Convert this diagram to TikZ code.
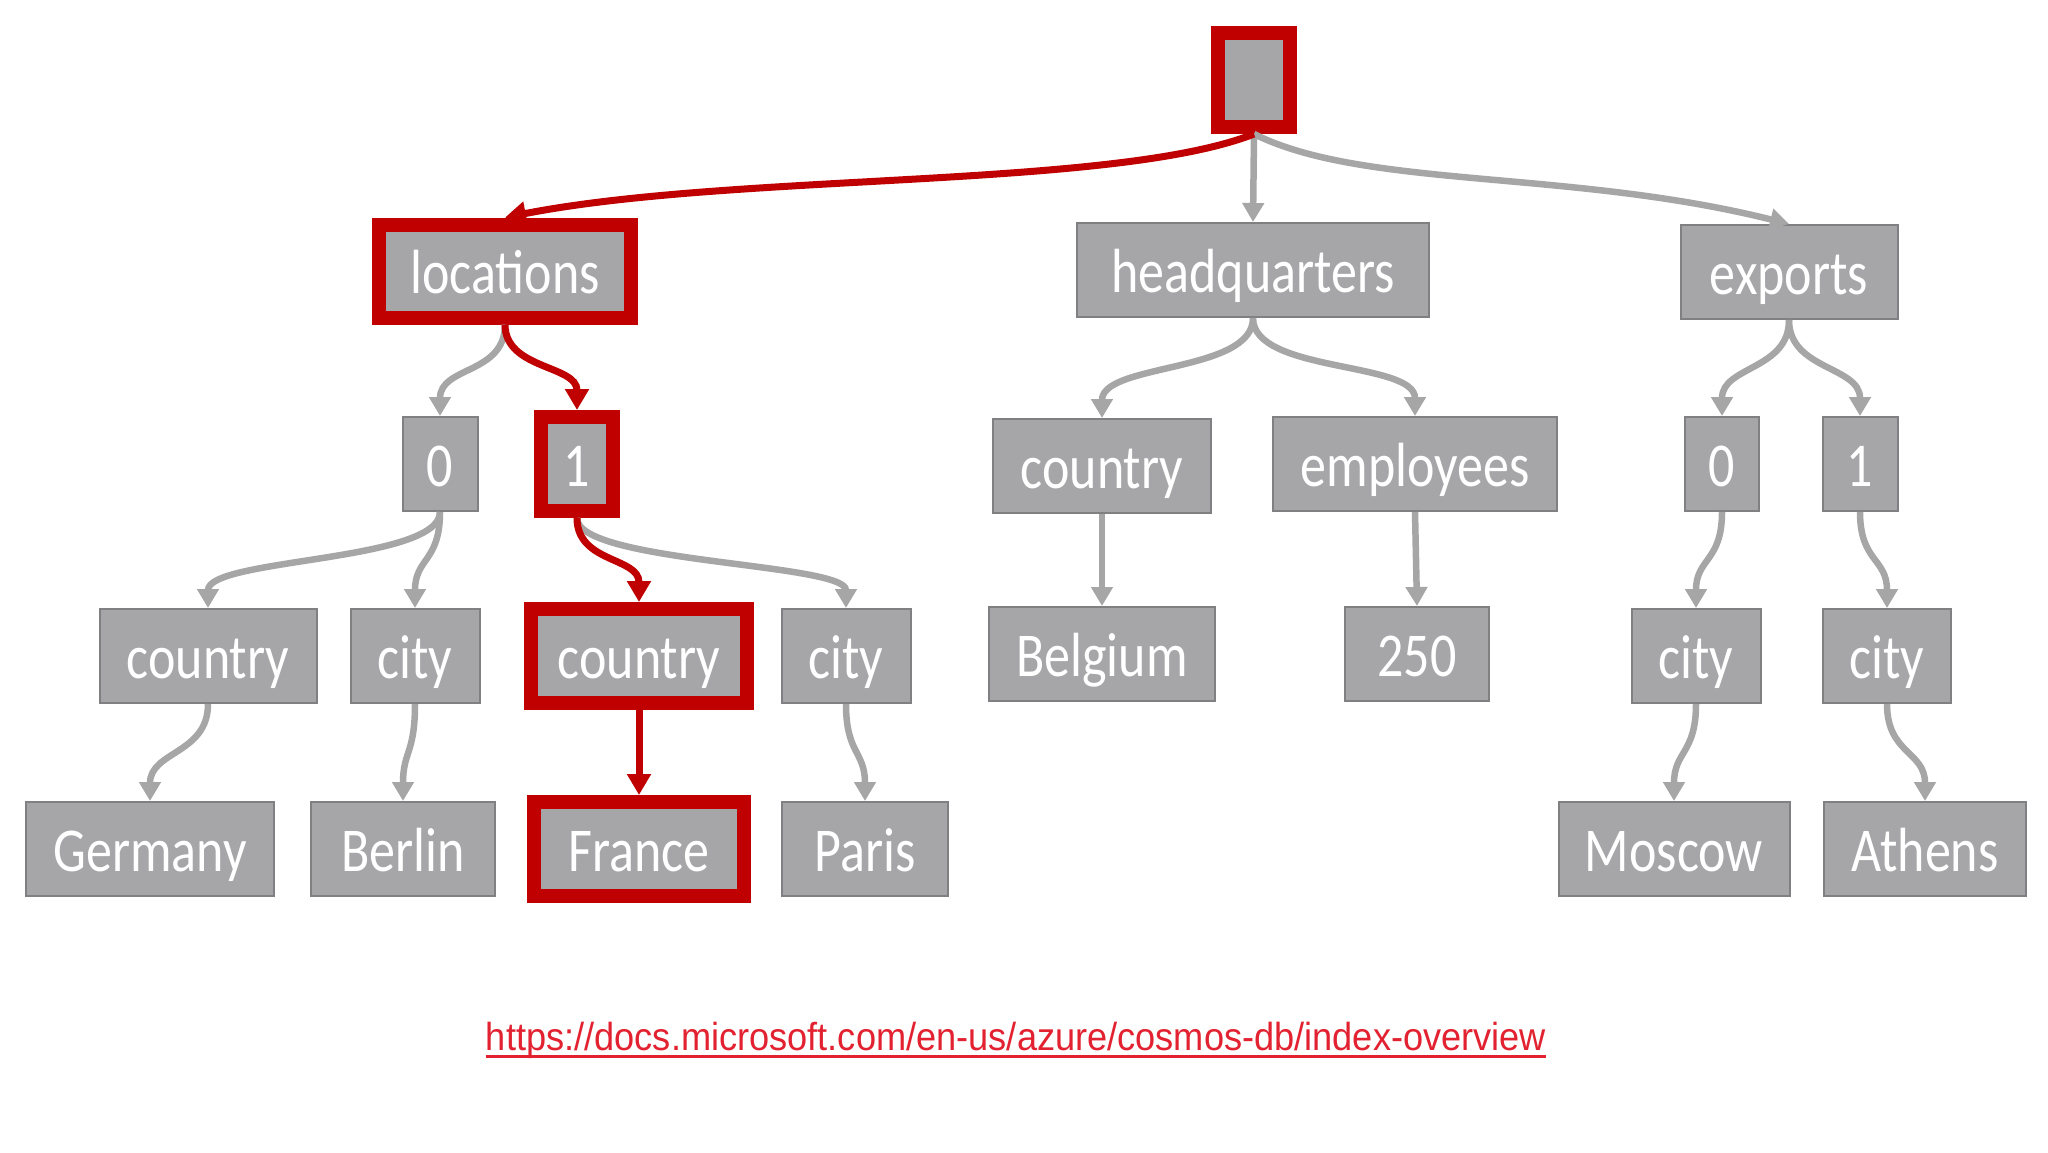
\documentclass[tikz,border=0pt]{standalone}
\usepackage{fontspec}
\setmainfont{Carlito}
\newfontfamily\urlfont{Liberation Sans}
\usetikzlibrary{arrows.meta}
\definecolor{boxfill}{RGB}{166,166,168}
\definecolor{boxline}{RGB}{128,128,130}
\definecolor{hired}{RGB}{192,0,0}
\definecolor{arrowgray}{RGB}{166,166,166}
\definecolor{urlred}{RGB}{226,34,48}
\newcommand{\tallt}[1]{\scalebox{1}[1.2]{#1}}
\tikzset{
  box/.style={draw=boxline, line width=2pt, fill=boxfill, text=white, inner sep=0pt,
    minimum height=94pt, text height=52pt, text depth=8pt, font=\fontsize{52}{60}\selectfont},
  hbox/.style={box, draw=hired, line width=14pt},
  conn/.style={draw=arrowgray, line width=6.5pt, -{Triangle[width=21pt,length=19pt]}},
  hconn/.style={draw=hired, line width=7pt, -{Triangle[width=23pt,length=21pt]}}
}
\begin{document}
\begin{tikzpicture}[x=1pt,y=-1pt]
\fill[white] (0,0) rectangle (2048,1152);
\useasboundingbox (0,0) rectangle (2048,1152);
% level 0
\node[hbox, minimum width=72pt] (root) at (1254,80) {};
% level 1
\node[hbox, minimum width=252pt, minimum height=93pt] (loc) at (505,271) {\tallt{locations}};
\node[box, minimum width=352pt] (hq) at (1253,270) {\tallt{headquarters}};
\node[box, minimum width=217pt] (exp) at (1789,272) {\tallt{exports}};
% level 2
\node[box, minimum width=75pt] (l0) at (440,464) {\tallt{0}};
\node[hbox, minimum width=72pt] (l1) at (577,464) {\tallt{1}};
\node[box, minimum width=218pt] (hqc) at (1102,466) {\tallt{country}};
\node[box, minimum width=284pt] (emp) at (1415,464) {\tallt{employees}};
\node[box, minimum width=74pt] (e0) at (1722,464) {\tallt{0}};
\node[box, minimum width=75pt] (e1) at (1860,464) {\tallt{1}};
% level 3
\node[box, minimum width=217pt] (c0) at (208,656) {\tallt{country}};
\node[box, minimum width=129pt] (ci0) at (415,656) {\tallt{city}};
\node[hbox, minimum width=216pt] (c1) at (639,656) {\tallt{country}};
\node[box, minimum width=129pt] (ci1) at (846,656) {\tallt{city}};
\node[box, minimum width=226pt] (bel) at (1102,654) {\tallt{Belgium}};
\node[box, minimum width=144pt] (n250) at (1417,654) {\tallt{250}};
\node[box, minimum width=129pt] (ec0) at (1696,656) {\tallt{city}};
\node[box, minimum width=128pt] (ec1) at (1887,656) {\tallt{city}};
% level 4
\node[box, minimum width=248pt] (ger) at (150,849) {\tallt{Germany}};
\node[box, minimum width=184pt] (ber) at (403,849) {\tallt{Berlin}};
\node[hbox, minimum width=210pt] (fra) at (639,849) {\tallt{France}};
\node[box, minimum width=166pt] (par) at (865,849) {\tallt{Paris}};
\node[box, minimum width=231pt] (mos) at (1674,849) {\tallt{Moscow}};
\node[box, minimum width=202pt] (ath) at (1925,849) {\tallt{Athens}};
% connectors
\draw[conn] (root.south) -- (hq.north);
\draw[conn] (root.south) .. controls +(110,55) and +(-220,-55) .. (exp.north);
\draw[hconn] (root.south) .. controls +(-140,55) and +(230,-45) .. (loc.north);
\draw[conn] (loc.south) .. controls +(0,50) and +(0,-50) .. (l0.north);
\draw[hconn] (loc.south) .. controls +(0,45) and +(0,-45) .. (l1.north);
\draw[conn] (hq.south) .. controls +(0,55) and +(0,-55) .. (hqc.north);
\draw[conn] (hq.south) .. controls +(0,55) and +(0,-55) .. (emp.north);
\draw[conn] (exp.south) .. controls +(0,50) and +(0,-50) .. (e0.north);
\draw[conn] (exp.south) .. controls +(0,50) and +(0,-50) .. (e1.north);
\draw[conn] (l0.south) .. controls +(0,50) and +(0,-50) .. (c0.north);
\draw[conn] (l0.south) .. controls +(0,50) and +(0,-50) .. (ci0.north);
\draw[conn] (l1.south) .. controls +(0,45) and +(0,-45) .. (ci1.north);
\draw[hconn] (l1.south) .. controls +(0,45) and +(0,-45) .. (c1.north);
\draw[conn] (e0.south) .. controls +(0,50) and +(0,-50) .. (ec0.north);
\draw[conn] (e1.south) .. controls +(0,50) and +(0,-50) .. (ec1.north);
\draw[conn] (hqc.south) -- (bel.north);
\draw[conn] (emp.south) -- (n250.north);
\draw[conn] (c0.south) .. controls +(0,50) and +(0,-50) .. (ger.north);
\draw[conn] (ci0.south) .. controls +(0,50) and +(0,-50) .. (ber.north);
\draw[hconn] (c1.south) -- (fra.north);
\draw[conn] (ci1.south) .. controls +(0,50) and +(0,-50) .. (par.north);
\draw[conn] (ec0.south) .. controls +(0,50) and +(0,-50) .. (mos.north);
\draw[conn] (ec1.south) .. controls +(0,50) and +(0,-50) .. (ath.north);
% link
\node[inner sep=0pt, text=urlred] (url) at (1016,1040)
  {\scalebox{1}[1.08]{\resizebox{1060pt}{!}{\urlfont\fontsize{36}{40}\selectfont https://docs.microsoft.com/en-us/azure/cosmos-db/index-overview}}};
\draw[urlred, line width=3pt] ([yshift=-6pt]url.base west) -- ([yshift=-6pt]url.base east);
\end{tikzpicture}
\end{document}
